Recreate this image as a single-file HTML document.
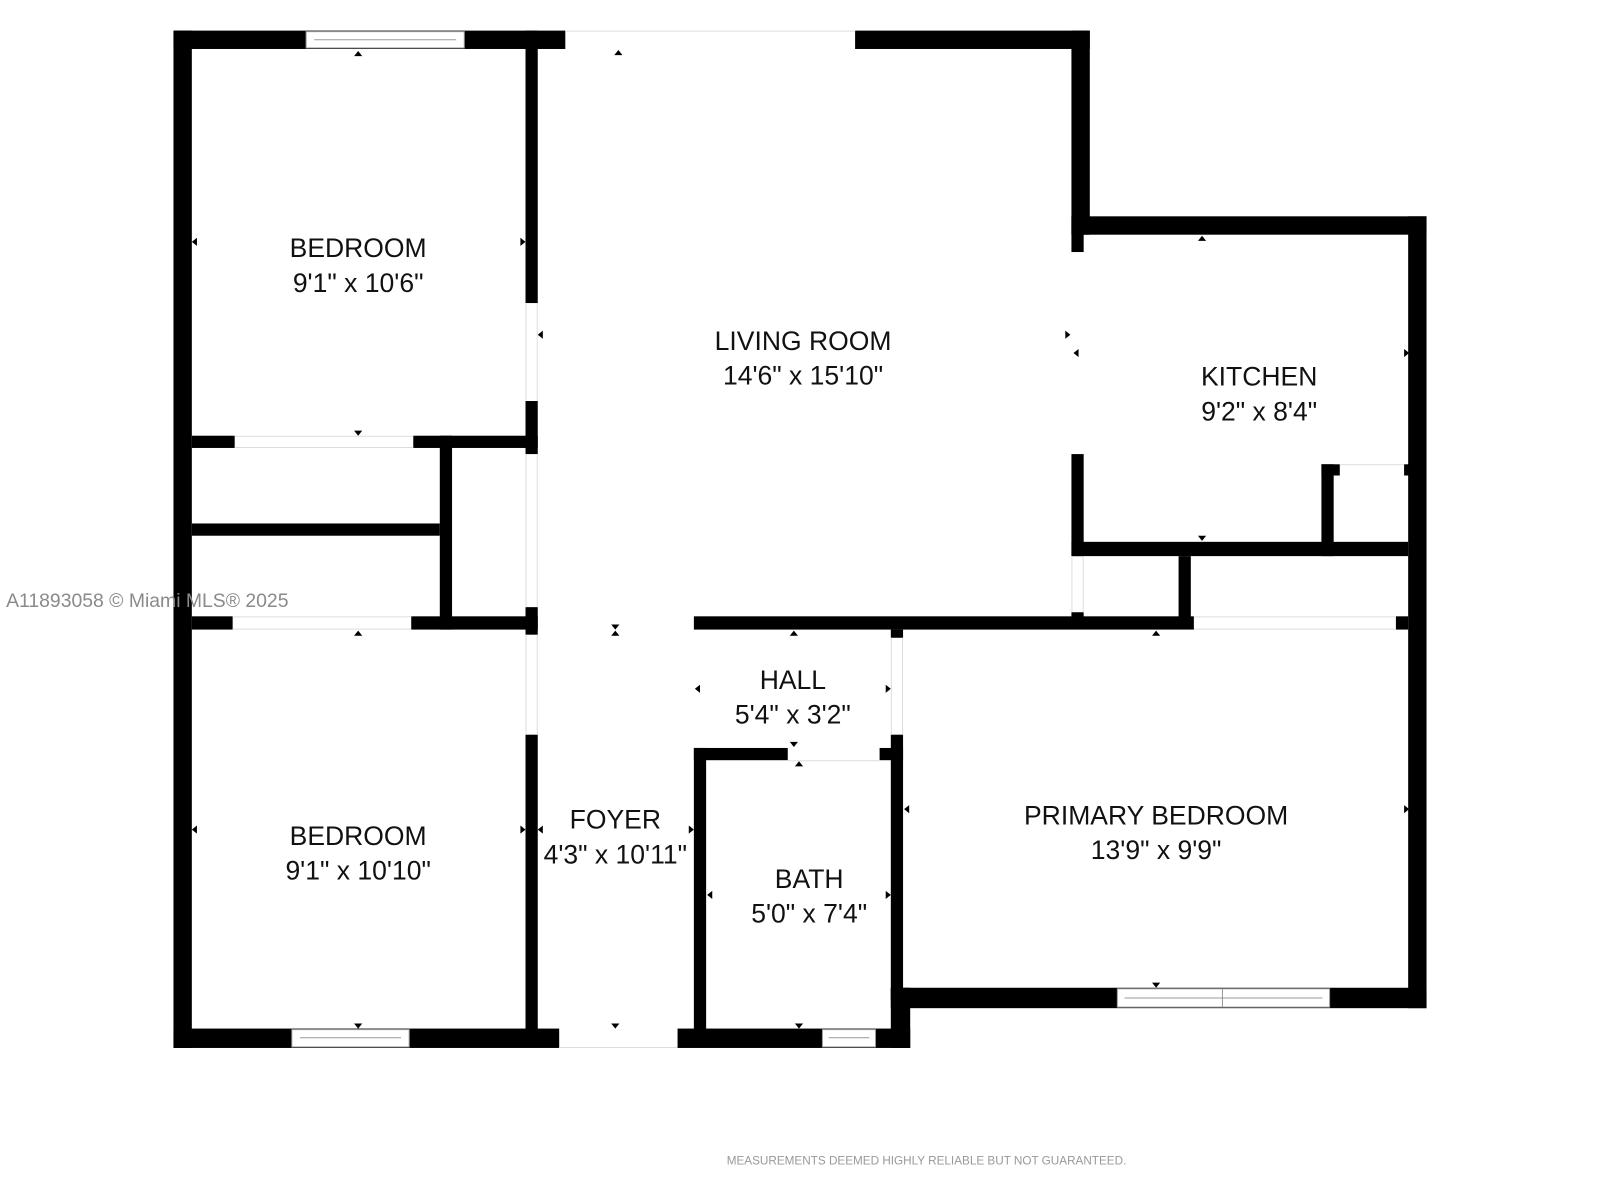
<!DOCTYPE html>
<html><head><meta charset="utf-8"><style>
html,body{margin:0;padding:0;background:#fff;width:1600px;height:1200px;overflow:hidden}
svg{display:block}
.t{font-family:"Liberation Sans",sans-serif;font-size:26px;fill:#111;text-anchor:middle}
</style></head><body>
<svg width="1600" height="1200" viewBox="0 0 1568 1176" xmlns="http://www.w3.org/2000/svg">
<rect width="1568" height="1176" fill="#fff"/>
<g fill="#000">
<rect x="170" y="30" width="384" height="18"/>
<rect x="838" y="30" width="230" height="18"/>
<rect x="1050" y="30" width="18" height="200"/>
<rect x="1050" y="212" width="348" height="18"/>
<rect x="1380" y="212" width="18" height="776"/>
<rect x="170" y="30" width="18" height="997"/>
<rect x="170" y="1008" width="378" height="19"/>
<rect x="664" y="1008" width="228" height="19"/>
<rect x="873" y="968" width="525" height="20"/>
<rect x="873" y="968" width="19" height="59"/>
<rect x="515" y="30" width="12" height="267"/>
<rect x="515" y="393" width="12" height="52"/>
<rect x="515" y="595" width="12" height="27"/>
<rect x="515" y="720" width="12" height="300"/>
<rect x="188" y="427" width="42" height="12"/>
<rect x="405" y="427" width="122" height="12"/>
<rect x="431" y="427" width="12" height="190"/>
<rect x="188" y="513" width="243" height="12"/>
<rect x="188" y="604" width="40" height="13"/>
<rect x="403" y="604" width="124" height="13"/>
<rect x="680" y="604" width="490" height="13"/>
<rect x="1368" y="604" width="12" height="13"/>
<rect x="1050" y="212" width="12" height="35"/>
<rect x="1050" y="445" width="12" height="100"/>
<rect x="1050" y="600" width="12" height="15"/>
<rect x="1050" y="531" width="330" height="14"/>
<rect x="1295" y="455" width="12" height="90"/>
<rect x="1295" y="455" width="18" height="11"/>
<rect x="1376" y="455" width="6" height="11"/>
<rect x="1155" y="545" width="12" height="70"/>
<rect x="873" y="617" width="12" height="8"/>
<rect x="873" y="720" width="12" height="260"/>
<rect x="680" y="733" width="12" height="290"/>
<rect x="680" y="733" width="92" height="12"/>
<rect x="862" y="733" width="23" height="12"/>
</g>
<g fill="#fff" stroke="#999" stroke-width="1">
<rect x="300" y="31" width="155" height="16"/>
<line x1="308" y1="39" x2="447" y2="39"/>
<rect x="286" y="1009" width="115" height="17"/>
<line x1="294" y1="1017" x2="393" y2="1017"/>
<rect x="806" y="1009" width="52" height="17"/>
<line x1="812" y1="1017" x2="852" y2="1017"/>
<rect x="1095" y="969" width="208" height="18"/>
<line x1="1198" y1="969" x2="1198" y2="987"/>
<line x1="1102" y1="978" x2="1296" y2="978"/>
</g>
<g stroke="#ddd" stroke-width="1" fill="none">
<line x1="554" y1="30.5" x2="838" y2="30.5"/>
<line x1="548" y1="1026.5" x2="664" y2="1026.5"/>
<line x1="230" y1="427.5" x2="405" y2="427.5"/>
<line x1="230" y1="438.5" x2="405" y2="438.5"/>
<line x1="228" y1="604.5" x2="403" y2="604.5"/>
<line x1="228" y1="616.5" x2="403" y2="616.5"/>
<line x1="1170" y1="604.5" x2="1368" y2="604.5"/>
<line x1="1170" y1="616.5" x2="1368" y2="616.5"/>
<line x1="515.5" y1="297" x2="515.5" y2="393"/>
<line x1="526.5" y1="297" x2="526.5" y2="393"/>
<line x1="515.5" y1="445" x2="515.5" y2="595"/>
<line x1="526.5" y1="445" x2="526.5" y2="595"/>
<line x1="515.5" y1="622" x2="515.5" y2="720"/>
<line x1="526.5" y1="622" x2="526.5" y2="720"/>
<line x1="873.5" y1="625" x2="873.5" y2="720"/>
<line x1="884.5" y1="625" x2="884.5" y2="720"/>
<line x1="772" y1="745.5" x2="862" y2="745.5"/>
<line x1="1313" y1="455.5" x2="1376" y2="455.5"/>
<line x1="1050.5" y1="545" x2="1050.5" y2="600"/>
<line x1="1061.5" y1="545" x2="1061.5" y2="600"/>
</g>
<g fill="#000">
<path d="M347 55l4-5 4 5z"/><path d="M347 422l4 5 4-5z"/>
<path d="M193 233l-5 4 5 4z"/><path d="M510 233l5 4-5 4z"/>
<path d="M602 54l4-5 4 5z"/><path d="M532 324l-5 4 5 4z"/>
<path d="M1044 324l5 4-5 4z"/><path d="M1057 342l-5 4 5 4z"/>
<path d="M1174 236l4-5 4 5z"/><path d="M1174 525l4 5 4-5z"/>
<path d="M1376 342l5 4-5 4z"/>
<path d="M347 623l4-5 4 5z"/><path d="M347 1003l4 5 4-5z"/>
<path d="M193 809l-5 4 5 4z"/><path d="M510 809l5 4-5 4z"/>
<path d="M599 612l4 5 4-5z"/><path d="M599 623l4-5 4 5z"/>
<path d="M599 1003l4 5 4-5z"/>
<path d="M532 809l-5 4 5 4z"/><path d="M675 809l5 4-5 4z"/>
<path d="M774 623l4-5 4 5z"/><path d="M774 727l4 5 4-5z"/>
<path d="M779 751l4-5 4 5z"/><path d="M779 1003l4 5 4-5z"/>
<path d="M686 671l-5 4 5 4z"/><path d="M868 671l5 4-5 4z"/>
<path d="M698 873l-5 4 5 4z"/><path d="M868 873l5 4-5 4z"/>
<path d="M1129 623l4-5 4 5z"/><path d="M1129 963l4 5 4-5z"/>
<path d="M891 789l-5 4 5 4z"/><path d="M1376 789l5 4-5 4z"/>
</g>
<g class="t">
<text x="351" y="252">BEDROOM</text><text x="351" y="286">9'1" x 10'6"</text>
<text x="787" y="343">LIVING ROOM</text><text x="787" y="377">14'6" x 15'10"</text>
<text x="1234" y="378">KITCHEN</text><text x="1234" y="412">9'2" x 8'4"</text>
<text x="777" y="675">HALL</text><text x="777" y="709">5'4" x 3'2"</text>
<text x="351" y="828">BEDROOM</text><text x="351" y="862">9'1" x 10'10"</text>
<text x="603" y="812">FOYER</text><text x="603" y="846">4'3" x 10'11"</text>
<text x="793" y="870">BATH</text><text x="793" y="904">5'0" x 7'4"</text>
<text x="1133" y="808">PRIMARY BEDROOM</text><text x="1133" y="842">13'9" x 9'9"</text>
</g>
<text x="6" y="595" font-family="Liberation Sans,sans-serif" font-size="19" fill="#8a8a8a">A11893058 © Miami MLS® 2025</text>
<text x="908" y="1141" font-family="Liberation Sans,sans-serif" font-size="11.5" fill="#999" text-anchor="middle">MEASUREMENTS DEEMED HIGHLY RELIABLE BUT NOT GUARANTEED.</text>
</svg>
</body></html>
